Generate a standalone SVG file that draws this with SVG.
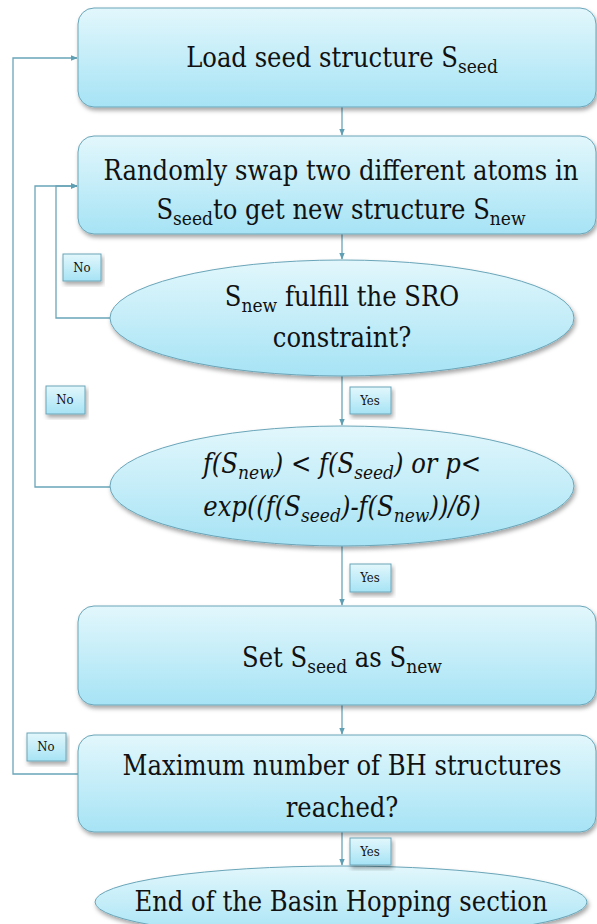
<svg xmlns="http://www.w3.org/2000/svg" width="597" height="924" viewBox="0 0 597 924">
<defs>
<linearGradient id="g" x1="0" y1="0" x2="0" y2="1">
<stop offset="0" stop-color="#e2f7fc"/>
<stop offset="1" stop-color="#a6e3f5"/>
</linearGradient>
<filter id="sh" x="-10%" y="-10%" width="120%" height="130%">
<feDropShadow dx="1.5" dy="3" stdDeviation="2" flood-color="#000" flood-opacity="0.35"/>
</filter>
<marker id="ah" viewBox="0 0 10 10" refX="9" refY="5" markerWidth="7" markerHeight="7" orient="auto" markerUnits="userSpaceOnUse">
<path d="M0,1 L10,5 L0,9 z" fill="#5f9fb3"/>
</marker>
<style>
.n{fill:url(#g);stroke:#6aa5b8;stroke-width:1;filter:url(#sh)}
text{fill:#111;text-anchor:middle;font-family:"DejaVu Serif Condensed","DejaVu Serif","Liberation Serif",serif}
.t{font-size:27px}
.i{font-style:italic}
.l{font-size:13px}
.c{fill:none;stroke:#6aa5b8;stroke-width:1.3}
</style>
</defs>
<g id="connectors">
<path class="c" d="M342,107 V135" marker-end="url(#ah)"/>
<path class="c" d="M342,234 V259" marker-end="url(#ah)"/>
<path class="c" d="M342,376 V425" marker-end="url(#ah)"/>
<path class="c" d="M342,546 V605" marker-end="url(#ah)"/>
<path class="c" d="M342,705 V734" marker-end="url(#ah)"/>
<path class="c" d="M342,832 V865" marker-end="url(#ah)"/>
<path class="c" d="M110,318 H56 V186 H77" marker-end="url(#ah)"/>
<path class="c" d="M110,487 H35 V186 H77" marker-end="url(#ah)"/>
<path class="c" d="M78,774 H13 V58 H77" marker-end="url(#ah)"/>
</g>
<g id="load">
<rect class="n" x="78" y="8" width="518" height="99" rx="16"/>
<text class="t" x="342" y="67">Load seed structure S<tspan font-size="19" dy="6">seed</tspan></text>
</g>
<g id="swap">
<rect class="n" x="78" y="136" width="518" height="98" rx="16"/>
<text class="t" x="341" y="180">Randomly swap two different atoms in</text>
<text class="t" x="341" y="219">S<tspan font-size="19" dy="6">seed</tspan><tspan dy="-6">to get new structure S</tspan><tspan font-size="19" dy="6">new</tspan></text>
</g>
<g id="sro">
<ellipse class="n" cx="342" cy="318" rx="232" ry="58"/>
<text class="t" x="342" y="306">S<tspan font-size="19" dy="6">new</tspan><tspan dy="-6"> fulfill the SRO</tspan></text>
<text class="t" x="342" y="347">constraint?</text>
</g>
<g id="accept">
<ellipse class="n" cx="342" cy="486" rx="232" ry="60"/>
<text class="t i" x="342" y="473">f(S<tspan font-size="19" dy="6">new</tspan><tspan dy="-6">) &lt; f(S</tspan><tspan font-size="19" dy="6">seed</tspan><tspan dy="-6">) or p&lt;</tspan></text>
<text class="t i" x="342" y="516">exp((f(S<tspan font-size="19" dy="6">seed</tspan><tspan dy="-6">)-f(S</tspan><tspan font-size="19" dy="6">new</tspan><tspan dy="-6">))/δ)</tspan></text>
</g>
<g id="set">
<rect class="n" x="78" y="606" width="518" height="99" rx="16"/>
<text class="t" x="342" y="667">Set S<tspan font-size="19" dy="6">seed</tspan><tspan dy="-6"> as S</tspan><tspan font-size="19" dy="6">new</tspan></text>
</g>
<g id="max">
<rect class="n" x="78" y="735" width="518" height="97" rx="16"/>
<text class="t" x="342" y="775">Maximum number of BH structures</text>
<text class="t" x="342" y="817">reached?</text>
</g>
<g id="end">
<ellipse class="n" cx="341" cy="902" rx="246" ry="36"/>
<text class="t" x="341" y="911">End of the Basin Hopping section</text>
</g>
<g id="no1"><rect class="n" x="63" y="254" width="38" height="27"/><text class="l" x="82" y="272">No</text></g>
<g id="no2"><rect class="n" x="46" y="386" width="39" height="28"/><text class="l" x="65" y="404">No</text></g>
<g id="no3"><rect class="n" x="27" y="733" width="39" height="28"/><text class="l" x="46" y="751">No</text></g>
<g id="yes1"><rect class="n" x="350" y="387" width="41" height="27"/><text class="l" x="370" y="405">Yes</text></g>
<g id="yes2"><rect class="n" x="350" y="564" width="41" height="28"/><text class="l" x="370" y="582">Yes</text></g>
<g id="yes3"><rect class="n" x="350" y="838" width="41" height="27"/><text class="l" x="370" y="856">Yes</text></g>
</svg>
